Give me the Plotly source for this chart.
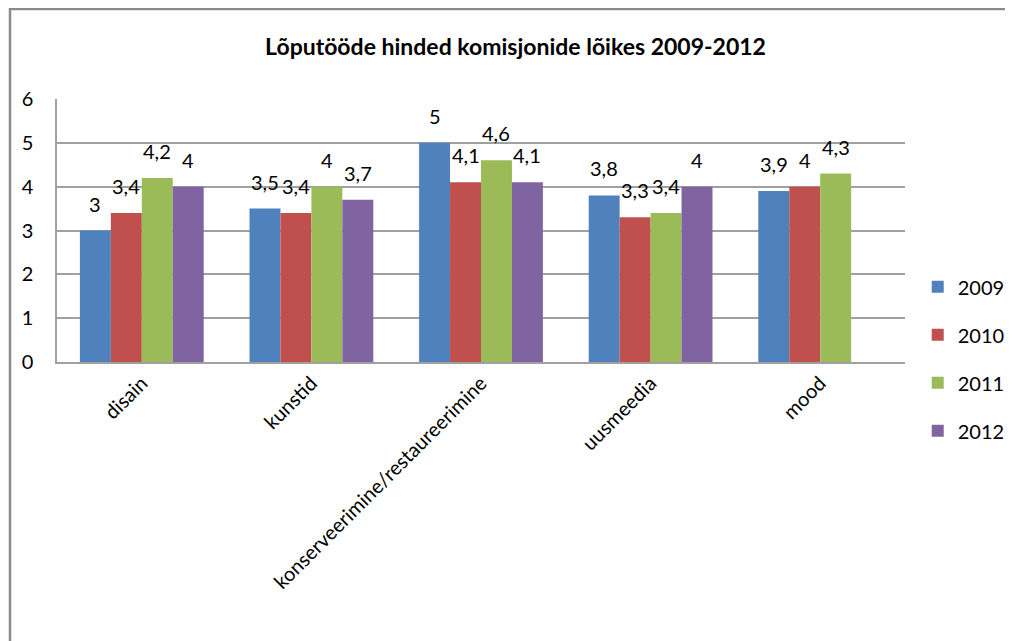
import plotly.graph_objects as go

categories = ["disain", "kunstid", "konserveerimine/restaureerimine", "uusmeedia", "mood"]
years = ["2009", "2010", "2011", "2012"]
v2009 = [3.0, 3.5, 5.0, 3.8, 3.9]
v2010 = [3.4, 3.4, 4.1, 3.3, 4.0]
v2011 = [4.2, 4.0, 4.6, 3.4, 4.3]
v2012 = [4.0, 3.7, 4.1, 4.0, None]
series = [v2009, v2010, v2011, v2012]
colors = ["#4F81BD", "#C0504D", "#9BBB59", "#8064A2"]

FONT = "Lato"

# page body has an 8px margin: figure is 8px smaller and plot offsets shifted
W, H = 1005, 633
ML, MR, MT, MB = 49, 108, 91, 279
PW = W - ML - MR
PH = H - MT - MB
BARGAP = 0.27


def fmt(v):
    if v is None:
        return ""
    return ("%g" % v).replace(".", ",")


fig = go.Figure()
for name, vals, col in zip(years, series, colors):
    fig.add_trace(go.Bar(
        x=categories, y=vals, name=name,
        marker=dict(color=col, line=dict(width=0)),
        legendgroup=name,
        hoverinfo="x+y+name",
    ))

# data labels, placed above each bar
n = len(series)
bw = PW / len(categories) * (1 - BARGAP) / n
annotations = []
for i, vals in enumerate(series):
    for cat, v in zip(categories, vals):
        if v is None:
            continue
        annotations.append(dict(
            x=cat, y=v, xref="x", yref="y", text=fmt(v), showarrow=False,
            xanchor="center", yanchor="bottom",
            xshift=(i - (n - 1) / 2) * bw, yshift=13,
            font=dict(family=FONT, size=20, color="#000000"),
        ))

fig.update_layout(
    width=W, height=H,
    margin=dict(l=ML, r=MR, t=MT, b=MB, autoexpand=False),
    paper_bgcolor="white", plot_bgcolor="white",
    barmode="group", bargap=BARGAP, bargroupgap=0,
    font=dict(family=FONT, size=20, color="#000000"),
    title=dict(
        text="<b>Lõputööde hinded komisjonide lõikes 2009-2012</b>",
        x=0.505, xref="container", xanchor="center",
        y=1 - 39 / H, yref="container", yanchor="middle",
        font=dict(family=FONT, size=23, color="#000000"),
    ),
    xaxis=dict(
        tickangle=-45, showgrid=False, showline=True, linecolor="#A0A0A0", linewidth=1.5,
        ticks="", tickfont=dict(family=FONT, size=20), ticklabelstandoff=0,
        automargin=False,
    ),
    yaxis=dict(
        range=[0, 6], dtick=1, showgrid=True, gridcolor="#A0A0A0", gridwidth=1.5,
        showline=True, linecolor="#A0A0A0", linewidth=1.5, zeroline=False,
        ticks="", tickfont=dict(family=FONT, size=20), ticklabelstandoff=18,
        automargin=False,
    ),
    legend=dict(
        x=1.015, xanchor="left", y=0.012, yanchor="middle",
        font=dict(family=FONT, size=20), tracegroupgap=19,
        bgcolor="rgba(0,0,0,0)", itemwidth=30,
    ),
    annotations=annotations,
    shapes=[dict(
        type="rect", xref="paper", yref="paper",
        x0=(2 - ML) / PW, x1=1.3, y0=-1.5, y1=(MT + PH - 1) / PH,
        line=dict(color="#8A8A8A", width=2.5), fillcolor="rgba(0,0,0,0)", layer="below",
    )],
)

fig.write_html("out.html")
